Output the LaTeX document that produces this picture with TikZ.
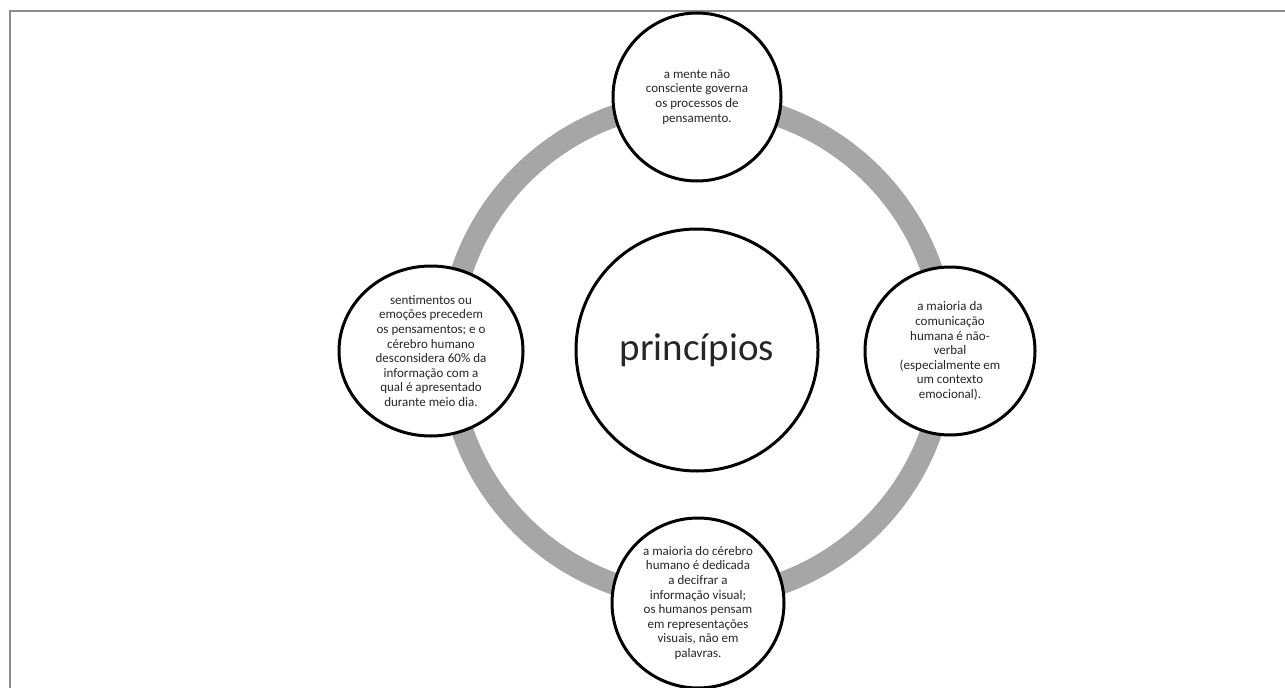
\documentclass[tikz,border=0pt]{standalone}
\usepackage{fontspec}
\setmainfont{Carlito}
\usetikzlibrary{shapes.geometric}
\definecolor{ringgray}{HTML}{A6A6A6}
\definecolor{framegray}{HTML}{8C8C8C}
\definecolor{txt}{HTML}{262626}
\begin{document}
\begin{tikzpicture}[x=1pt,y=-1pt,
  sat/.style={draw=black,line width=3pt,fill=white,ellipse,inner sep=0pt,
    align=center,text=txt,font=\fontsize{13}{14.6}\selectfont},
  hub/.style={draw=black,line width=3pt,fill=white,circle,inner sep=0pt,
    minimum size=242pt,text=txt,font=\fontsize{39}{44}\selectfont}]
\useasboundingbox (0,0) rectangle (1285,688);
\draw[framegray,line width=2pt] (10,688) -- (10,11) -- (1285,11);
\coordinate (c) at (697,350);
\draw[ringgray,line width=22pt] (c) circle[radius=248];
\node[hub] (p) at (c) {princípios};
\node[sat,minimum width=168pt,minimum height=168pt] (t) at (697,97)
  {a mente não\\consciente governa\\os processos de\\pensamento.};
\node[sat,minimum width=170pt,minimum height=168pt] (r) at (950,351)
  {a maioria da\\comunicação\\humana é não-\\verbal\\(especialmente em\\um contexto\\emocional).};
\node[sat,minimum width=172pt,minimum height=170pt] (b) at (698,603)
  {a maioria do cérebro\\humano é dedicada\\a decifrar a\\informação visual;\\os humanos pensam\\em representações\\visuais, não em\\palavras.};
\node[sat,minimum width=184pt,minimum height=170pt] (l) at (431,351)
  {sentimentos ou\\emoções precedem\\os pensamentos; e o\\cérebro humano\\desconsidera 60\% da\\informação com a\\qual é apresentado\\durante meio dia.};
\end{tikzpicture}
\end{document}
